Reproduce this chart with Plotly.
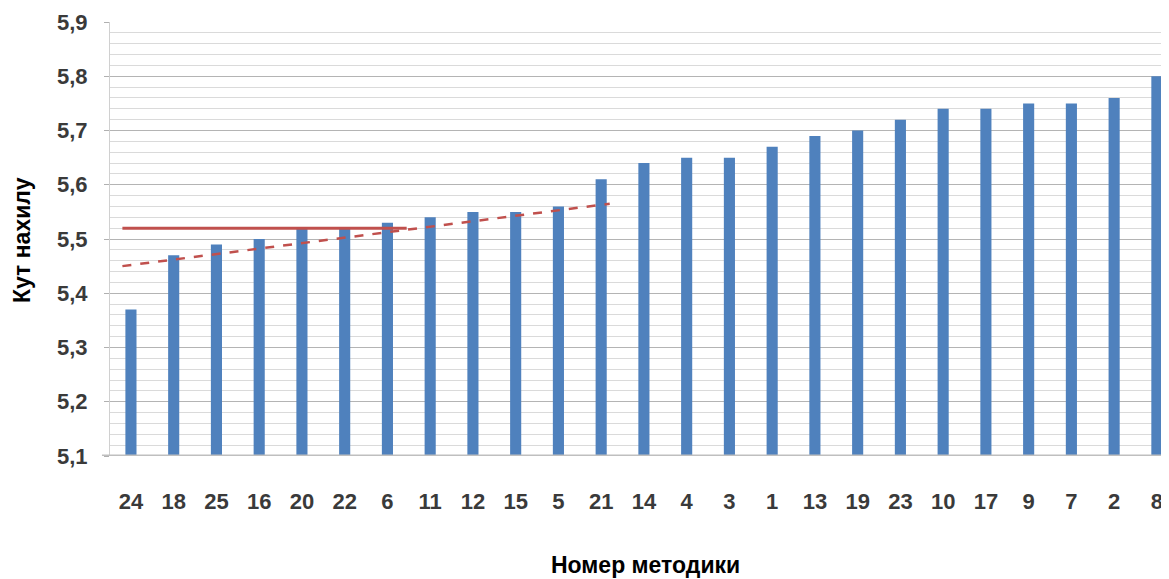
import plotly.graph_objects as go

methods = ["24", "18", "25", "16", "20", "22", "6", "11", "12", "15", "5", "21",
           "14", "4", "3", "1", "13", "19", "23", "10", "17", "9", "7", "2", "8"]
values = [5.37, 5.47, 5.49, 5.50, 5.52, 5.52, 5.53, 5.54, 5.55, 5.55, 5.56, 5.61,
          5.64, 5.65, 5.65, 5.67, 5.69, 5.70, 5.72, 5.74, 5.74, 5.75, 5.75, 5.76, 5.80]
base_level = 5.1

ref_x = [-0.2, 6.45]
ref_y = [5.52, 5.52]
trend_x = [-0.2, 11.2]
trend_y = [5.45, 5.565]

y_ticks = [5.1, 5.2, 5.3, 5.4, 5.5, 5.6, 5.7, 5.8, 5.9]
y_ticktext = ["5,1", "5,2", "5,3", "5,4", "5,5", "5,6", "5,7", "5,8", "5,9"]

FONT = "Liberation Sans Narrow, Arial Narrow, Liberation Sans, Arial, sans-serif"
BLUE = "#4F81BD"
RED = "#C0504D"

idx = list(range(len(methods)))

fig = go.Figure()
fig.add_trace(go.Bar(
    x=idx, y=[v - base_level for v in values], base=base_level,
    width=0.26, marker=dict(color=BLUE, line=dict(width=0)),
    showlegend=False, hoverinfo="skip"))
fig.add_trace(go.Scatter(
    x=ref_x, y=ref_y, mode="lines",
    line=dict(color=RED, width=3), showlegend=False, hoverinfo="skip"))
fig.add_trace(go.Scatter(
    x=trend_x, y=trend_y, mode="lines",
    line=dict(color=RED, width=2.5, dash="dash"), showlegend=False, hoverinfo="skip"))

fig.update_layout(
    width=1161, height=571,
    margin=dict(l=102, r=1, t=14, b=123, autoexpand=False),
    plot_bgcolor="white", paper_bgcolor="white",
    font=dict(family=FONT, color="#3A3A3A"),
    xaxis=dict(
        range=[-0.49, 24.26], tickmode="array", tickvals=idx, ticktext=methods,
        showgrid=False, zeroline=False, showline=False, ticks="",
        tickfont=dict(size=22, family=FONT, weight="bold", color="#3A3A3A"),
        ticklabelstandoff=30, automargin=False,
    ),
    yaxis=dict(
        range=[5.1, 5.9], tickmode="array", tickvals=y_ticks, ticktext=y_ticktext,
        showgrid=True, gridcolor="#B4B4B4", gridwidth=1,
        minor=dict(dtick=0.02, tick0=5.1, showgrid=True, gridcolor="#DADADA", gridwidth=1),
        zeroline=False, showline=True, linecolor="#D0D0D0", linewidth=1,
        ticks="outside", ticklen=5, tickcolor="#B0B0B0",
        tickfont=dict(size=22, family=FONT, weight="bold", color="#3A3A3A"),
        ticklabelstandoff=12, automargin=False,
    ),
    shapes=[dict(type="line", xref="paper", yref="y", x0=-0.0076, x1=1,
                 y0=base_level, y1=base_level,
                 line=dict(color="#BFBFBF", width=3), layer="above")],
    annotations=[
        dict(text="Номер методики", xref="paper", yref="paper", x=0.506, y=-0.251,
             showarrow=False, xanchor="center", yanchor="middle",
             font=dict(size=23, family=FONT, weight="bold", color="#000000")),
        dict(text="Кут нахилу", xref="paper", yref="paper", x=-0.083, y=0.498,
             xanchor="center", yanchor="middle", showarrow=False, textangle=-90,
             font=dict(size=23, family=FONT, weight="bold", color="#000000")),
    ],
)

fig.write_html("out.html")
